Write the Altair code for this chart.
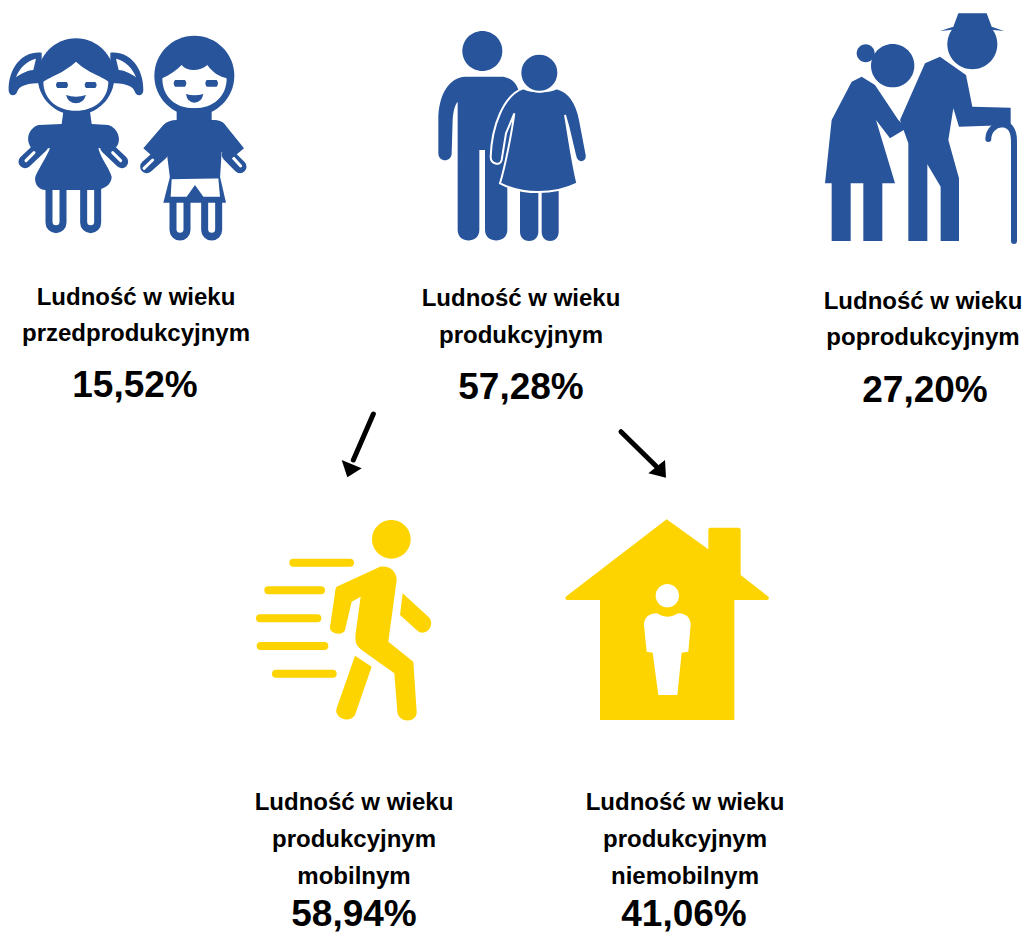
import altair as alt
import pandas as pd

BLUE = "#27549b"
YELLOW = "#fdd400"
FONT = "Liberation Sans"

group_x = [136, 521, 923, 354, 685]
share_x = [135, 521, 925, 354, 684]
line_1 = ["Ludność w wieku"] * 5
line_2 = ["przedprodukcyjnym", "produkcyjnym", "poprodukcyjnym", "produkcyjnym", "produkcyjnym"]
line_3 = ["", "", "", "mobilnym", "niemobilnym"]
line_1_y = [298, 299, 302, 803, 803]
line_2_y = [334, 336, 338, 840, 840]
line_3_y = [None, None, None, 877, 877]
shares = ["15,52%", "57,28%", "27,20%", "58,94%", "41,06%"]
share_y = [386, 388, 391, 915, 915]

XS = alt.Scale(domain=[8, 1022])
YS = alt.Scale(domain=[8, 937], reverse=True)


def C(cx, cy, r):
    return f"M{cx-r},{cy}A{r},{r} 0 1 1 {cx+r},{cy}A{r},{r} 0 1 1 {cx-r},{cy}Z"


def icon(path, anchor, color=BLUE, line=None, outline=None):
    d = pd.DataFrame({"x": [anchor[0]], "y": [anchor[1]]})
    if line is not None:
        m = alt.Chart(d).mark_point(shape=path, size=4 / 9, filled=False, fill=None, stroke=color,
                                    strokeWidth=line, strokeCap="round", opacity=1)
    elif outline is not None:
        m = alt.Chart(d).mark_point(shape=path, size=4 / 9, filled=True, fill=color, stroke="white",
                                    strokeWidth=outline, opacity=1)
    else:
        m = alt.Chart(d).mark_point(shape=path, size=4 / 9, filled=True, fill=color, strokeWidth=0, opacity=1)
    return m.encode(x=alt.X("x:Q", scale=XS, axis=None), y=alt.Y("y:Q", scale=YS, axis=None))


KIDS = (0, 20)
ADULTS = (420, 20)
OLD = (810, 5)
WALK = (240, 400)
HOUSE = (550, 420)

layers = []

# children
girl_tails = ("M125,98C70,92 25,140 26,212C28,230 48,230 52,214C60,195 85,190 125,190Z"
              "M331,98C386,92 431,140 430,212C428,230 408,230 404,214C396,195 371,190 331,190Z")
tail_holes = ("M108,116C80,122 58,145 48,172C65,160 85,150 100,150Z"
              "M348,116C376,122 398,145 408,172C391,160 371,150 356,150Z")
girl_face = ("M130,185C150,170 190,160 228,125C265,160 310,170 325,185"
             "C325,240 280,272 228,272C175,272 130,240 130,185Z")
girl_mark = ("M172,186H200Q208,195 200,204H172Q164,195 172,186Z"
             "M258,186H286Q294,195 286,204H258Q250,195 258,186Z"
             "M198,225Q228,235 258,225Q250,250 228,250Q205,250 198,225Z")
dress = ("M190,275L270,275L275,312L325,315C355,325 365,360 350,380L295,385C305,420 325,440 335,470"
         "C335,495 310,510 280,510L135,510C110,510 100,480 108,465C120,440 140,410 150,385L95,385"
         "C75,360 85,325 115,315L185,312Z")
boy_face = ("M487,175C510,165 530,150 545,135C560,155 600,155 622,135C640,160 660,170 680,175"
            "C680,230 640,265 583,265C525,265 487,230 487,175Z")
boy_mark = ("M525,180H555Q563,190 555,200H525Q517,190 525,180Z"
            "M620,180H650Q658,190 650,200H620Q612,190 620,180Z"
            "M558,222Q583,230 610,222Q605,248 583,248Q562,248 558,222Z")
shirt = ("M530,265L635,265L635,300C660,300 670,305 680,320L732,385L690,420L665,395L660,475L510,475"
         "L500,395L470,420L430,385L490,315C500,305 515,300 530,300Z")
shorts = "M510,470L660,470L678,548L490,548Z"
shorts_hole = "M515,478L655,475L660,530L610,530L585,495L560,530L512,530Z"

layers += [
    icon("M168,500L168,608M272,500L272,608M540,540L540,630M635,540L635,630", KIDS, line=21),
    icon("M168,510L168,605M272,510L272,605M540,550L540,628M635,550L635,628", KIDS, color="white", line=7),
    icon("M75,425L125,378M365,425L320,382M440,440L485,400M720,440L685,405", KIDS, line=13),
    icon("M78,422L102,398M362,422L338,398M432,445L458,420M722,438L698,412", KIDS, color="white", line=3),
    icon(girl_tails, KIDS), icon(tail_holes, KIDS, color="white"),
    icon(C(228, 170, 115), KIDS), icon(girl_face, KIDS, color="white"), icon(girl_mark, KIDS),
    icon(dress, KIDS),
    icon(shorts, KIDS), icon(shorts_hole, KIDS, color="white"),
    icon(C(583, 167, 120), KIDS), icon(boy_face, KIDS, color="white"), icon(boy_mark, KIDS),
    icon(shirt, KIDS),
]

# working-age adults
man = ("M135,170L250,170C280,175 295,195 300,230L262,400L262,630C262,672 195,672 195,630L195,390L178,390"
       "L178,630C178,672 113,672 113,630L113,245C105,255 100,270 98,300L95,400C95,428 55,428 55,400L55,300"
       "C55,220 90,172 135,170Z")
woman_legs = ("M300,500L355,500L355,635C355,672 300,672 300,635Z"
              "M365,500L416,500L416,635C416,672 365,672 365,635Z")
woman = ("M310,205C340,218 380,218 410,205C450,215 470,250 480,300L500,405C503,432 470,435 465,405L445,320"
         "L435,285C445,340 455,420 472,490C400,525 310,525 240,490C255,440 275,340 283,280L258,340L245,420"
         "C240,440 212,432 212,410C215,320 250,225 310,205Z")
layers += [
    icon(man, ADULTS), icon(C(187, 93, 60), ADULTS),
    icon(woman_legs, ADULTS), icon(woman, ADULTS, outline=2),
    icon(C(358, 158, 57), ADULTS, outline=2),
]

# elderly couple
hat = "M445,25L530,25L545,65L582,78L520,72L450,72L390,78L430,65Z"
old_man = ("M390,155L468,210L487,305L602,308L602,360L447,365L430,310L415,405L447,520L447,708L392,708L392,545"
           "L352,478L352,708L295,708L295,415L270,345L345,175Z")
old_woman = ("M155,215L195,240L265,345L290,370L240,400L198,345L255,535L217,535L217,708L160,708L160,535"
             "L122,535L122,708L65,708L65,535L45,535L65,345L125,230Z")
cane = "M535,402C535,375 555,360 575,358C605,358 612,385 612,410L612,708"
layers += [
    icon(old_woman, OLD), icon(C(248, 182, 65), OLD), icon(C(167, 145, 27), OLD),
    icon(old_man, OLD), icon(C(487, 118, 75), OLD), icon(hat, OLD),
    icon(cane, OLD, line=6),
]

# arrows
layers += [
    icon("M400,42L340,180", WALK, color="black", line=5),
    icon("M322,232L305,180L365,205Z", WALK, color="black"),
    icon("M213,35L320,140", HOUSE, color="black", line=5),
    icon("M348,173L295,160L345,120Z", HOUSE, color="black"),
]

# walking person
walker = ("M290,560L420,500C450,495 470,515 470,540L445,725L520,785L530,935C532,970 475,970 472,935L463,820"
          "L365,750C345,735 345,720 347,700L362,590L335,605L315,690C308,710 265,700 270,680L285,580"
          "C285,570 287,565 290,560Z")
walker_arm = "M488,580L565,650C590,675 555,715 530,690L480,645Z"
walker_leg = "M345,767L395,800L345,945C325,975 280,950 290,925Z"
layers += [
    icon("M160,488L330,488M85,571L243,571M60,655L232,655M62,738L253,738M108,821L278,821", WALK, color=YELLOW, line=8),
    icon(C(454, 418, 58), WALK, color=YELLOW),
    icon(walker, WALK, color=YELLOW), icon(walker_arm, WALK, color=YELLOW), icon(walker_leg, WALK, color=YELLOW),
]

# house
house = ("M350,298L475,388L475,330Q475,323 482,323L565,323Q572,323 572,330L572,465L655,530Q660,540 650,540"
         "L553,540L553,900L150,900L150,540L50,540Q42,535 50,528Z")
figure = ("M320,580Q352,600 385,580C410,580 422,595 422,615L415,695L395,698L382,825L325,825L308,698L290,695"
          "L282,615C282,595 295,580 320,580Z")
layers += [
    icon(house, HOUSE, color=YELLOW),
    icon(C(352, 527, 35), HOUSE, color="white"),
    icon(figure, HOUSE, color="white"),
]

# text
labels = pd.DataFrame({
    "x": group_x * 3,
    "y": line_1_y + line_2_y + line_3_y,
    "t": line_1 + line_2 + line_3,
})
labels = labels[labels["t"] != ""]
layers.append(
    alt.Chart(labels).mark_text(font=FONT, fontWeight="bold", fontSize=24, color="black", align="center", baseline="middle")
    .encode(x=alt.X("x:Q", scale=XS, axis=None), y=alt.Y("y:Q", scale=YS, axis=None), text="t:N")
)
pct = pd.DataFrame({"x": share_x, "y": share_y, "t": shares})
layers.append(
    alt.Chart(pct).mark_text(font=FONT, fontWeight="bold", fontSize=37, color="black", align="center", baseline="middle")
    .encode(x=alt.X("x:Q", scale=XS, axis=None), y=alt.Y("y:Q", scale=YS, axis=None), text="t:N")
)

chart = alt.layer(*layers).properties(
    width=1014, height=929, padding=0, autosize=alt.AutoSizeParams(type="none")
).configure_view(stroke=None)

chart.save("out.html", embed_options={"renderer": "svg", "actions": False})
